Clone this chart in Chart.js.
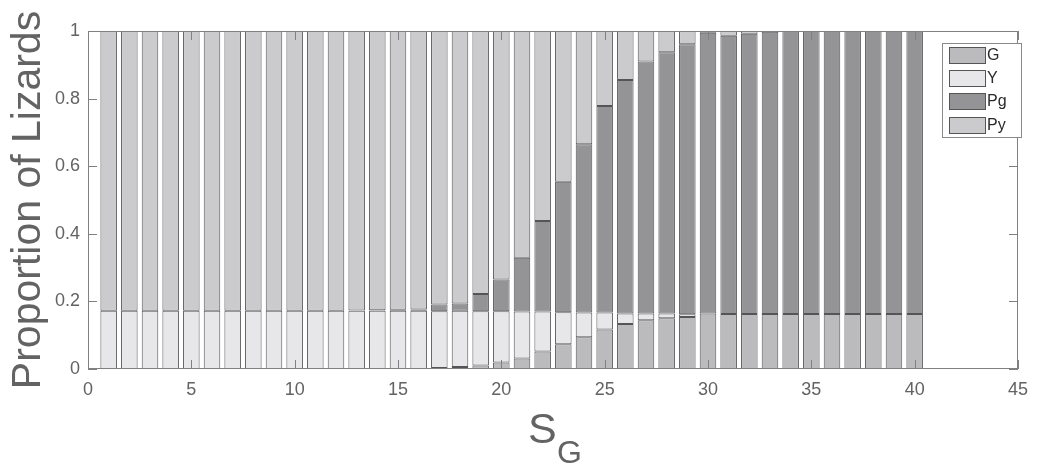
<!DOCTYPE html>
<html>
<head>
<meta charset="utf-8">
<script src="https://cdn.jsdelivr.net/npm/chart.js@4.4.0/dist/chart.umd.min.js"></script>
<style>
  html, body { margin: 0; padding: 0; background: #fff; }
  #wrap { width: 1038px; height: 470px; }
</style>
</head>
<body>
<div id="wrap"><canvas id="lizardChart" width="1038" height="470"></canvas></div>
<script>
// S_G values (bar positions)
const sG = [1, 2, 3, 4, 5, 6, 7, 8, 9, 10, 11, 12, 13, 14, 15, 16, 17, 18, 19, 20,
            21, 22, 23, 24, 25, 26, 27, 28, 29, 30, 31, 32, 33, 34, 35, 36, 37, 38, 39, 40];

const seriesNames = ['G', 'Y', 'Pg', 'Py'];

const valG = [0, 0, 0, 0, 0, 0, 0, 0, 0, 0, 0, 0, 0, 0, 0, 0, 0.003, 0.006, 0.010, 0.019,
              0.031, 0.052, 0.073, 0.094, 0.117, 0.133, 0.144, 0.150, 0.154, 0.164,
              0.163, 0.163, 0.163, 0.163, 0.163, 0.163, 0.163, 0.163, 0.163, 0.163];
const valY = [0.172, 0.172, 0.172, 0.172, 0.172, 0.172, 0.172, 0.172, 0.172, 0.172,
              0.172, 0.172, 0.172, 0.172, 0.172, 0.172, 0.168, 0.166, 0.161, 0.152,
              0.139, 0.118, 0.095, 0.073, 0.050, 0.031, 0.020, 0.014, 0.008, 0,
              0, 0, 0, 0, 0, 0, 0, 0, 0, 0];
const valPg = [0, 0, 0, 0, 0, 0, 0, 0, 0, 0, 0, 0, 0.001, 0.002, 0.003, 0.004, 0.020, 0.022, 0.051, 0.094,
               0.159, 0.268, 0.386, 0.498, 0.611, 0.691, 0.746, 0.773, 0.799, 0.831,
               0.823, 0.829, 0.835, 0.837, 0.837, 0.837, 0.837, 0.837, 0.837, 0.837];
const valPy = [0.828, 0.828, 0.828, 0.828, 0.828, 0.828, 0.828, 0.828, 0.828, 0.828,
               0.828, 0.828, 0.827, 0.826, 0.825, 0.824, 0.809, 0.806, 0.778, 0.735,
               0.671, 0.562, 0.446, 0.335, 0.222, 0.145, 0.090, 0.063, 0.039, 0.005,
               0.014, 0.008, 0.002, 0, 0, 0, 0, 0, 0, 0];

const xTicks = [0, 5, 10, 15, 20, 25, 30, 35, 40, 45];
const yTicks = [0, 0.2, 0.4, 0.6, 0.8, 1];

const fills = ['#bbbbbe', '#e7e7e9', '#949497', '#cbcbcd'];
const axisGray = '#808080';
const textGray = '#636363';
const fontFam = '"Liberation Sans", Arial, Helvetica, sans-serif';

function pts(vals) {
    return sG.map(function(x, i) { return { x: x, y: vals[i] }; });
}

// box, inward ticks, subscript x title and legend
const matlabAxes = {
    id: 'matlabAxes',
    afterDraw: function(chart) {
        const ctx = chart.ctx;
        const a = chart.chartArea;
        const xs = chart.scales.x, ys = chart.scales.y;
        ctx.save();
        ctx.strokeStyle = axisGray;
        ctx.lineWidth = 1;
        ctx.strokeRect(a.left + 0.5, a.top + 0.5, a.right - a.left - 1, a.bottom - a.top - 1);
        ctx.beginPath();
        xTicks.forEach(function(t) {
            const px = Math.round(xs.getPixelForValue(t)) + 0.5;
            ctx.moveTo(px, a.bottom); ctx.lineTo(px, a.bottom - 9);
            ctx.moveTo(px, a.top); ctx.lineTo(px, a.top + 9);
        });
        yTicks.forEach(function(t) {
            const py = Math.round(ys.getPixelForValue(t)) + 0.5;
            ctx.moveTo(a.left, py); ctx.lineTo(a.left + 9, py);
            ctx.moveTo(a.right, py); ctx.lineTo(a.right - 9, py);
        });
        ctx.stroke();

        // x title S_G
        ctx.fillStyle = textGray;
        ctx.textBaseline = 'alphabetic';
        ctx.textAlign = 'left';
        ctx.font = '43px ' + fontFam;
        ctx.fillText('S', 528, 443);
        ctx.font = '32px ' + fontFam;
        ctx.fillText('G', 557, 463);

        // legend
        const lx = 942, ly = 43, lw = 79, lh = 94;
        ctx.fillStyle = '#ffffff';
        ctx.fillRect(lx, ly, lw, lh);
        ctx.strokeStyle = '#8a8a8a';
        ctx.strokeRect(lx + 0.5, ly + 0.5, lw, lh);
        ctx.font = '16px ' + fontFam;
        ctx.textBaseline = 'middle';
        chart.data.datasets.forEach(function(ds, i) {
            const ry = 47 + i * 23.2;
            ctx.fillStyle = ds.backgroundColor;
            ctx.fillRect(949, Math.round(ry), 36, 16);
            ctx.strokeStyle = '#555555';
            ctx.strokeRect(949.5, Math.round(ry) + 0.5, 36, 16);
            ctx.fillStyle = '#2a2a2a';
            ctx.fillText(ds.label, 987, Math.round(ry) + 9);
        });
        ctx.restore();
    }
};

const ctx = document.getElementById('lizardChart').getContext('2d');
const lizardChart = new Chart(ctx, {
    type: 'bar',
    data: {
        datasets: [valG, valY, valPg, valPy].map(function(vals, i) {
            return {
                label: seriesNames[i],
                data: pts(vals),
                backgroundColor: fills[i],
                borderColor: '#555558',
                borderWidth: 1,
                borderSkipped: false,
                barPercentage: 0.8,
                categoryPercentage: 1.0
            };
        })
    },
    options: {
        responsive: false,
        animation: false,
        layout: { padding: { top: 31, right: 14, left: 0, bottom: 0 } },
        scales: {
            x: {
                type: 'linear',
                stacked: true,
                offset: false,
                min: 0,
                max: 45,
                grid: { display: false, drawTicks: false },
                border: { display: false },
                afterBuildTicks: function(scale) {
                    scale.ticks = xTicks.map(function(v) { return { value: v }; });
                },
                afterFit: function(scale) { scale.height = 101; },
                ticks: {
                    padding: 10,
                    maxRotation: 0,
                    color: textGray,
                    font: { family: fontFam, size: 18 }
                }
            },
            y: {
                stacked: true,
                min: 0,
                max: 1,
                grid: { display: false, drawTicks: false },
                border: { display: false },
                afterBuildTicks: function(scale) {
                    scale.ticks = yTicks.map(function(v) { return { value: v }; });
                },
                afterFit: function(scale) { scale.width = 88; },
                ticks: {
                    padding: 8,
                    color: textGray,
                    font: { family: fontFam, size: 18 },
                    callback: function(value) {
                        return String(Math.round(value * 10) / 10);
                    }
                },
                title: {
                    display: true,
                    text: 'Proportion of Lizards',
                    color: textGray,
                    padding: { top: 4, bottom: 0 },
                    font: { family: fontFam, size: 41 }
                }
            }
        },
        plugins: {
            legend: { display: false },
            tooltip: { enabled: false }
        }
    },
    plugins: [matlabAxes]
});
</script>
</body>
</html>
